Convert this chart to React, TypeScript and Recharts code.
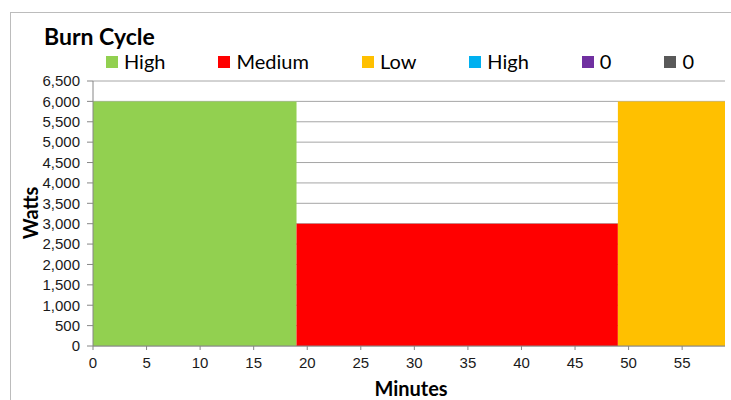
import { Area, CartesianGrid, ComposedChart, XAxis, YAxis } from "recharts";

// burn cycle segments: each series holds its level only over its own time span
const minutes = [0, 19, 49, 59];
const high = [6000, 6000, null, null];
const medium = [null, 3000, 3000, null];
const low = [null, null, 6000, 6000];
const spare = [null, null, null, null];

const xTicks = [0, 5, 10, 15, 20, 25, 30, 35, 40, 45, 50, 55];
const yTicks = [0, 500, 1000, 1500, 2000, 2500, 3000, 3500, 4000, 4500, 5000, 5500, 6000, 6500];

const SERIES = [
  { key: "high", name: "High", color: "#92D050", values: high },
  { key: "medium", name: "Medium", color: "#FF0000", values: medium },
  { key: "low", name: "Low", color: "#FFC000", values: low },
  { key: "high2", name: "High", color: "#00B0F0", values: spare },
  { key: "zero1", name: "0", color: "#7030A0", values: spare },
  { key: "zero2", name: "0", color: "#595959", values: spare },
];

const data = minutes.map((m, i) => {
  const row: Record<string, number | null> = { minute: m };
  SERIES.forEach((s) => (row[s.key] = s.values[i]));
  return row;
});

const LABEL_FONT = "Lato, 'Open Sans', sans-serif";
const TICK_FONT = "'Liberation Sans', Arial, sans-serif";

const fmt = (v: number) => v.toLocaleString("en-US");

export default function App() {
  return (
    <div
      style={{
        position: "fixed",
        left: 0,
        top: 0,
        width: 731,
        height: 400,
        overflow: "hidden",
        background: "#fff",
      }}
    >
      <div
        style={{
          position: "absolute",
          left: 10,
          top: 12,
          width: 760,
          height: 420,
          border: "1px solid #bcbcbc",
          boxSizing: "border-box",
        }}
      />
      <div
        style={{
          position: "absolute",
          left: 44,
          top: 25,
          fontFamily: LABEL_FONT,
          fontWeight: 700,
          fontSize: 23,
          lineHeight: "23px",
          color: "#000",
        }}
      >
        Burn Cycle
      </div>
      <div
        style={{
          position: "absolute",
          left: 106,
          top: 51,
          display: "flex",
          gap: 53,
          fontFamily: LABEL_FONT,
          fontSize: 20,
          lineHeight: "20px",
          color: "#000",
        }}
      >
        {SERIES.map((s) => (
          <div key={s.key} style={{ display: "flex", alignItems: "center" }}>
            <span
              style={{ width: 12, height: 12, background: s.color, marginRight: 6, marginTop: 2 }}
            />
            <span>{s.name}</span>
          </div>
        ))}
      </div>
      <ComposedChart
        width={731}
        height={400}
        data={data}
        margin={{ top: 81, right: 6, left: 0, bottom: 24 }}
        style={{ position: "absolute", left: 0, top: 0 }}
      >
        <CartesianGrid vertical={false} stroke="#a6a6a6" />
        <XAxis
          dataKey="minute"
          type="number"
          domain={[0, 59]}
          ticks={xTicks}
          interval={0}
          allowDataOverflow
          height={30}
          tickSize={4}
          tickMargin={7}
          stroke="#868686"
          tick={{ fill: "#1a1a1a", fontSize: 15, fontFamily: TICK_FONT }}
        />
        <YAxis
          type="number"
          domain={[0, 6500]}
          ticks={yTicks}
          interval={0}
          width={93}
          tickSize={6}
          tickMargin={7}
          tickFormatter={fmt}
          stroke="#868686"
          tick={{ fill: "#1a1a1a", fontSize: 15, fontFamily: TICK_FONT }}
        />
        {SERIES.map((s) => (
          <Area
            key={s.key}
            dataKey={s.key}
            name={s.name}
            type="linear"
            fill={s.color}
            fillOpacity={1}
            stroke="none"
            dot={false}
            activeDot={false}
            isAnimationActive={false}
          />
        ))}
      </ComposedChart>
      <div
        style={{
          position: "absolute",
          left: 411,
          top: 378,
          transform: "translateX(-50%)",
          fontFamily: LABEL_FONT,
          fontWeight: 700,
          fontSize: 20,
          lineHeight: "20px",
          color: "#000",
        }}
      >
        Minutes
      </div>
      <div
        style={{
          position: "absolute",
          left: 30,
          top: 213,
          transform: "translate(-50%, -50%) rotate(-90deg)",
          fontFamily: LABEL_FONT,
          fontWeight: 700,
          fontSize: 20,
          lineHeight: "20px",
          color: "#000",
        }}
      >
        Watts
      </div>
    </div>
  );
}
